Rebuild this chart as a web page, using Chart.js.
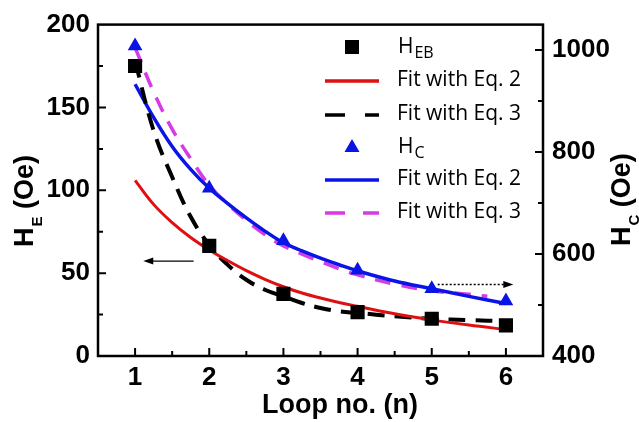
<!DOCTYPE html>
<html>
<head>
<meta charset="utf-8">
<script src="https://cdn.jsdelivr.net/npm/chart.js@4"></script>
<style>
  body { margin: 0; background: #fff; }
  #c { display: block; }
</style>
</head>
<body>
<canvas id="c" width="639" height="422"></canvas>
<script>
// measured points
const loops = [1, 2, 3, 4, 5, 6];
const hebPoints = [175, 66.5, 37.5, 26.5, 22.5, 18.5];
const hcPoints = [1008, 729, 626, 568, 532, 508];

// fit curves
const fitX = [1, 1.25, 1.5, 1.75, 2, 2.25, 2.5, 2.75, 3, 3.25, 3.5, 3.75, 4, 4.5, 5, 5.5, 6];
const hebFit2 = [106, 91.5, 80.5, 71.5, 64, 57.5, 51.5, 46.3, 41.8, 38, 35, 32.3, 30, 25.5, 21.8, 18.7, 16];
const hebFit3 = [178, 136, 108, 84, 67, 55, 46, 40, 36, 32, 29, 27, 26, 24, 22.5, 21.7, 21];
const hcFit2 = [933, 868, 811, 766, 729, 699, 671, 645, 622, 606, 592, 579, 567, 547, 532, 517, 503];
const hcFit3X = [1, 1.25, 1.5, 1.75, 2, 2.25, 2.5, 2.75, 3, 3.25, 3.5, 3.75, 4, 4.5, 5, 5.5, 5.75];
const hcFit3 = [1005, 918, 845, 787, 735, 698, 666, 638, 616, 600, 585, 571, 559, 541, 528, 521, 517];

// tick labels
const xTicks = [1, 2, 3, 4, 5, 6];
const leftTicks = [0, 50, 100, 150, 200];
const rightTicks = [400, 600, 800, 1000];

// arrows pointing at the axes (x, value)
const leftArrow = [[1.79, 57.3], [1.11, 57.3]];
const rightArrow = [[5.08, 540], [6.1, 540]];

const RED = '#dd1111', BLUE = '#0b14e6', MAG = '#d63ce6';
const tickFont = { family: 'Liberation Sans, Arial, sans-serif', size: 26, weight: 'bold' };
const titleFont = 'bold 27px "Liberation Sans", Arial, sans-serif';

const pts = (xs, ys) => xs.map((x, i) => ({ x: x, y: ys[i] }));

const legendItems = [
  { kind: 'square', color: '#000', text: ['H', 'EB'] },
  { kind: 'line', color: RED, dash: [], text: ['Fit with Eq. 2'] },
  { kind: 'line', color: '#000', dash: [20, 20], text: ['Fit with Eq. 3'] },
  { kind: 'tri', color: BLUE, text: ['H', 'C'] },
  { kind: 'line', color: BLUE, dash: [], text: ['Fit with Eq. 2'] },
  { kind: 'line', color: MAG, dash: [20, 18], text: ['Fit with Eq. 3'] }
];

function arrow(ctx, x1, y1, x2, y2, dotted) {
  ctx.save();
  ctx.strokeStyle = '#000';
  ctx.fillStyle = '#000';
  ctx.lineWidth = dotted ? 1.5 : 1.2;
  ctx.setLineDash(dotted ? [2, 2] : []);
  ctx.beginPath();
  ctx.moveTo(x1, y1);
  ctx.lineTo(x2 - Math.sign(x2 - x1) * 8, y2);
  ctx.stroke();
  ctx.setLineDash([]);
  const d = Math.sign(x2 - x1);
  ctx.beginPath();
  ctx.moveTo(x2, y2);
  ctx.lineTo(x2 - d * 10, y2 - 3.5);
  ctx.lineTo(x2 - d * 10, y2 + 3.5);
  ctx.closePath();
  ctx.fill();
  ctx.restore();
}

// text with a subscript, drawn left to right from (x, y) baseline
function subText(ctx, main, sub, x, y, mainFont, subFont, drop) {
  ctx.font = mainFont;
  ctx.fillText(main, x, y);
  let w = ctx.measureText(main).width;
  if (sub) {
    ctx.font = subFont;
    ctx.fillText(sub, x + w + 1, y + drop);
    w += ctx.measureText(sub).width + 1;
  }
  return w;
}

const decor = {
  id: 'decor',
  afterDraw(chart) {
    const ctx = chart.ctx;
    const a = chart.chartArea;
    const sx = chart.scales.x, sl = chart.scales.yL, sr = chart.scales.yR;

    // frame
    ctx.save();
    ctx.strokeStyle = '#000';
    ctx.lineWidth = 2.5;
    ctx.strokeRect(a.left, a.top, a.right - a.left, a.bottom - a.top);

    // inward ticks
    ctx.lineWidth = 2;
    ctx.beginPath();
    for (let v = 1; v <= 6; v += 0.5) {
      const p = sx.getPixelForValue(v);
      const len = Number.isInteger(v) ? 8 : 5;
      ctx.moveTo(p, a.bottom); ctx.lineTo(p, a.bottom - len);
    }
    for (let v = 25; v < 200; v += 25) {
      const p = sl.getPixelForValue(v);
      const len = v % 50 === 0 ? 8 : 5;
      ctx.moveTo(a.left, p); ctx.lineTo(a.left + len, p);
    }
    for (let v = 500; v <= 1000; v += 100) {
      const p = sr.getPixelForValue(v);
      const len = v % 200 === 0 ? 8 : 5;
      ctx.moveTo(a.right, p); ctx.lineTo(a.right - len, p);
    }
    ctx.stroke();
    ctx.restore();

    // arrows
    arrow(ctx, sx.getPixelForValue(leftArrow[0][0]), sl.getPixelForValue(leftArrow[0][1]),
      sx.getPixelForValue(leftArrow[1][0]), sl.getPixelForValue(leftArrow[1][1]), false);
    arrow(ctx, sx.getPixelForValue(rightArrow[0][0]), sr.getPixelForValue(rightArrow[0][1]),
      sx.getPixelForValue(rightArrow[1][0]), sr.getPixelForValue(rightArrow[1][1]), true);

    // axis titles
    ctx.save();
    ctx.fillStyle = '#000';
    ctx.textBaseline = 'alphabetic';
    ctx.font = titleFont;
    ctx.textAlign = 'center';
    ctx.fillText('Loop no. (n)', 340, 413);
    ctx.textAlign = 'left';

    ctx.save();
    ctx.translate(33, 247);
    ctx.rotate(-Math.PI / 2);
    let w = subText(ctx, 'H', 'E', 0, 0, titleFont, 'bold 15px "Liberation Sans", Arial, sans-serif', 9);
    ctx.font = titleFont;
    ctx.fillText(' (Oe)', w, 0);
    ctx.restore();

    ctx.save();
    ctx.translate(630, 246);
    ctx.rotate(-Math.PI / 2);
    w = subText(ctx, 'H', 'C', 0, 0, titleFont, 'bold 15px "Liberation Sans", Arial, sans-serif', 9);
    ctx.font = titleFont;
    ctx.fillText(' (Oe)', w, 0);
    ctx.restore();
    ctx.restore();

    // legend
    ctx.save();
    const rows = [47, 80, 114, 147, 179, 212];
    legendItems.forEach((it, i) => {
      const y = rows[i];
      ctx.fillStyle = it.color;
      ctx.strokeStyle = it.color;
      if (it.kind === 'square') {
        ctx.fillRect(345, y - 7, 14, 14);
      } else if (it.kind === 'tri') {
        ctx.beginPath();
        ctx.moveTo(352, y - 8);
        ctx.lineTo(359.5, y + 5);
        ctx.lineTo(344.5, y + 5);
        ctx.closePath();
        ctx.fill();
      } else {
        ctx.lineWidth = 3.5;
        ctx.setLineDash(it.dash);
        ctx.beginPath();
        ctx.moveTo(325, y + 1);
        ctx.lineTo(379, y + 1);
        ctx.stroke();
        ctx.setLineDash([]);
      }
      ctx.fillStyle = '#000';
      ctx.textBaseline = 'middle';
      const tx = it.text.length > 1 ? 398 : 397;
      subText(ctx, it.text[0], it.text[1], tx, y, '21px "Open Sans", sans-serif', '16px "Open Sans", sans-serif', 6);
    });
    ctx.restore();
  }
};

new Chart(document.getElementById('c'), {
  type: 'line',
  data: {
    datasets: [
      {
        label: 'HEB', data: pts(loops, hebPoints), yAxisID: 'yL', showLine: false,
        pointStyle: 'rect', pointRadius: 10, backgroundColor: '#000', borderColor: '#000', borderWidth: 0
      },
      {
        label: 'Fit Eq2 HE', data: pts(fitX, hebFit2), yAxisID: 'yL', borderColor: RED,
        borderWidth: 3, pointRadius: 0, tension: 0.4
      },
      {
        label: 'Fit Eq3 HE', data: pts(fitX, hebFit3), yAxisID: 'yL', borderColor: '#000',
        borderWidth: 4, borderDash: [17, 10], pointRadius: 0, tension: 0.4
      },
      {
        label: 'HC', data: pts(loops, hcPoints), yAxisID: 'yR', showLine: false,
        pointStyle: 'triangle', pointRadius: 8.5, backgroundColor: BLUE, borderColor: BLUE, borderWidth: 0
      },
      {
        label: 'Fit Eq2 HC', data: pts(fitX, hcFit2), yAxisID: 'yR', borderColor: BLUE,
        borderWidth: 3.5, pointRadius: 0, tension: 0.4
      },
      {
        label: 'Fit Eq3 HC', data: pts(hcFit3X, hcFit3), yAxisID: 'yR', borderColor: MAG,
        borderWidth: 3.5, borderDash: [16, 11], pointRadius: 0, tension: 0.4
      }
    ]
  },
  options: {
    responsive: false,
    animation: false,
    layout: { padding: { top: 22, left: 0, right: 0, bottom: 0 } },
    plugins: { legend: { display: false }, tooltip: { enabled: false } },
    scales: {
      x: {
        type: 'linear', min: 0.5, max: 6.5,
        afterBuildTicks: s => { s.ticks = xTicks.map(v => ({ value: v })); },
        afterFit: s => { s.height = 66; },
        grid: { display: false, drawTicks: false },
        border: { display: false },
        ticks: { font: tickFont, color: '#000', padding: 6, maxRotation: 0, autoSkip: false, callback: v => String(v) }
      },
      yL: {
        type: 'linear', position: 'left', min: 0, max: 200,
        afterBuildTicks: s => { s.ticks = leftTicks.map(v => ({ value: v })); },
        afterFit: s => { s.width = 98; },
        grid: { display: false, drawTicks: false },
        border: { display: false },
        ticks: { font: tickFont, color: '#000', padding: 8, callback: v => String(v) }
      },
      yR: {
        type: 'linear', position: 'right', min: 400, max: 1050,
        afterBuildTicks: s => { s.ticks = rightTicks.map(v => ({ value: v })); },
        afterFit: s => { s.width = 96; },
        grid: { display: false, drawTicks: false },
        border: { display: false },
        ticks: { font: tickFont, color: '#000', padding: 9, callback: v => String(v) }
      }
    }
  },
  plugins: [decor]
});
</script>
</body>
</html>
